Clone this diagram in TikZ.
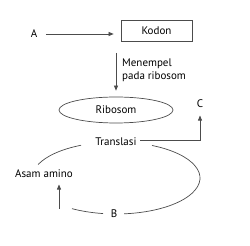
\documentclass[tikz,border=0pt]{standalone}
\usepackage{fontspec}
\setmainfont{PT Sans}
\usepackage{tikz}
\usetikzlibrary{arrows.meta,shapes.geometric}

\begin{document}
\begin{tikzpicture}[x=1pt,y=1pt,font=\fontsize{11}{13}\selectfont]
        \tikzset{Line/.style={draw=black!70, line width=0.7pt},
        Arrow/.style={Line, -{Triangle[length=5pt,width=4pt]}}}
        \useasboundingbox (0,0) rectangle (250,246);
        \node (A) at (34,212) {A};
        \node[Line, minimum width=71, minimum height=21] (Kodon) at (156.5,215.5) {Kodon};
        \draw[Arrow, shorten <=5pt, shorten >=7pt] (A) -- (A -| Kodon.west);
        \node[ellipse, Line, minimum width=114, minimum height=26, inner sep=0pt] (Ribosom) at (116,136) {Ribosom};
        \coordinate (Top) at (116,193);
        \draw[Arrow, shorten >=6pt] (Top) -- (Ribosom.north);
        \node[anchor=west, align=left, inner sep=0pt] (Tempel) at (122,176) {Menempel\\pada ribosom};
        \node (Translasi) at (116,104) {Translasi};
        \node (C) at (200,142) {C};
        \draw[Arrow, shorten <=0pt, shorten >=4pt] ([yshift=2pt]Translasi.east) -| (C.south);
        \node (Amino) at (44,72) {Asam amino};
        \coordinate (Bawah) at (59,37);
        \draw[Arrow, shorten >=3pt] (Bawah) -- (Bawah |- Amino.south);
        \node (B) at (114,32) {B};
        % lingkaran translasi
        \draw[Line] (116,68) ++(114.6:84pt and 36pt) arc[start angle=114.6, end angle=158, x radius=84pt, y radius=36pt];
        \draw[Line] (116,68) ++(64.6:84pt and 36pt) arc[start angle=64.6, end angle=-84.5, x radius=84pt, y radius=36pt];
        \draw[Line] (116,68) ++(-121.6:84pt and 36pt) arc[start angle=-121.6, end angle=-98.9, x radius=84pt, y radius=36pt];
    \end{tikzpicture}
\end{document}
